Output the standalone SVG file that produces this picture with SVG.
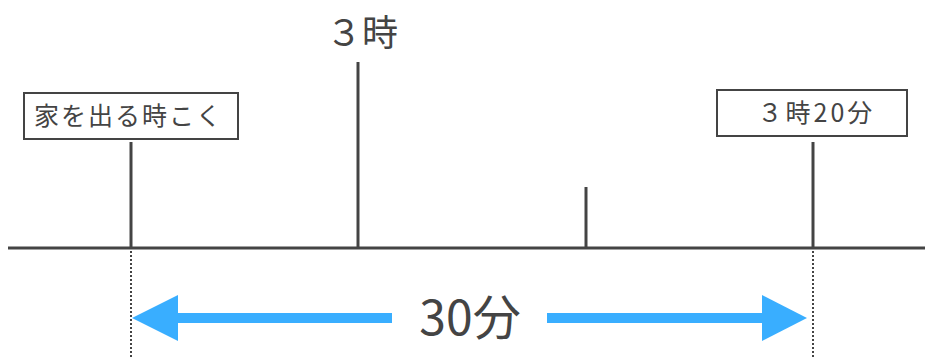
<svg xmlns="http://www.w3.org/2000/svg" width="925" height="358" viewBox="0 0 925 358">
<style>
.ln{stroke:#444;stroke-width:3;fill:none}
.dot{stroke:#444;stroke-width:2;stroke-dasharray:2 2;fill:none}
.box{fill:#fff;stroke:#444;stroke-width:2}
.t{font-family:"Noto Sans CJK JP","Noto Sans",sans-serif;fill:#444}
.arr{fill:#39AEFF}
</style>
<rect width="925" height="358" fill="#fff"/>
<g id="connectors">
<line class="ln" x1="8" y1="248" x2="925" y2="248"/>
<line class="ln" x1="131" y1="142" x2="131" y2="248"/>
<line class="ln" x1="358" y1="62" x2="358" y2="248"/>
<line class="ln" x1="586" y1="187" x2="586" y2="248"/>
<line class="ln" x1="813" y1="142" x2="813" y2="248"/>
<line class="dot" x1="131" y1="251" x2="131" y2="358"/>
<line class="dot" x1="813" y1="251" x2="813" y2="358"/>
</g>
<g id="label-start">
<rect class="box" x="24" y="93" width="214" height="46"/>
<text class="t" x="128.5" y="125" font-size="25" letter-spacing="2" text-anchor="middle">家を出る時こく</text>
</g>
<g id="label-3ji">
<text class="t" x="362" y="46" font-size="36" text-anchor="middle">３時</text>
</g>
<g id="label-end">
<rect class="box" x="717" y="90" width="190" height="46"/>
<text class="t" x="816.5" y="122" font-size="25" letter-spacing="3" text-anchor="middle">３時20分</text>
</g>
<g id="span-arrow">
<rect class="arr" x="176" y="313" width="216" height="10"/>
<polygon class="arr" points="132,318 178,295 178,341"/>
<rect class="arr" x="547" y="313" width="217" height="10"/>
<polygon class="arr" points="807,318 762,295 762,341"/>
<text class="t" x="470" y="335" font-size="48" text-anchor="middle">30分</text>
</g>
</svg>
